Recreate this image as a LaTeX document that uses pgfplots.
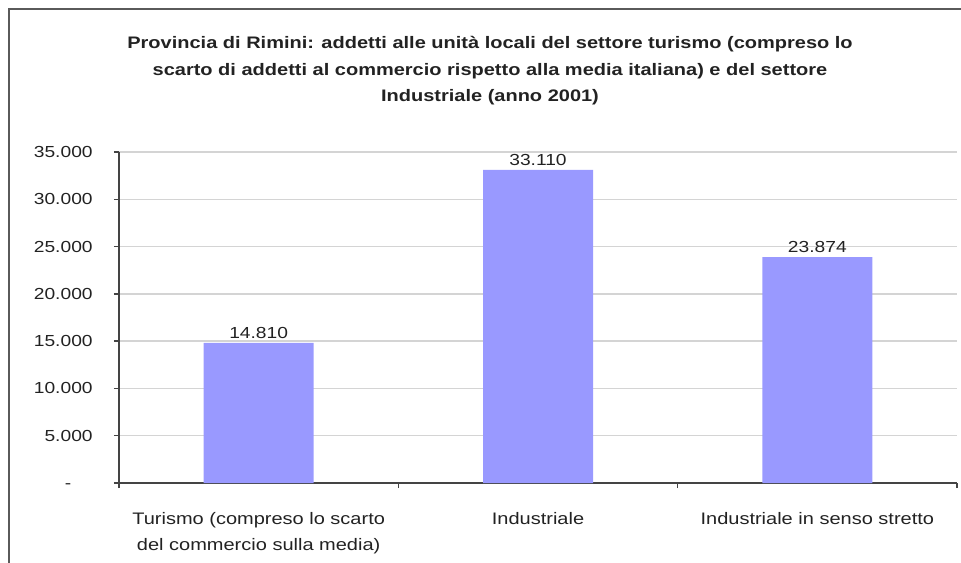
\documentclass[border=0pt]{standalone}
\usepackage{pgfplots}
\pgfplotsset{compat=1.18}
\usepackage{fontspec}
\setmainfont{Liberation Sans}[FakeStretch=1.2]
\definecolor{barcol}{HTML}{9999FF}
\definecolor{gridcol}{HTML}{D4D4D4}
\definecolor{axcol}{HTML}{444444}
\definecolor{framecol}{HTML}{5A5A5A}
\definecolor{txtcol}{HTML}{222222}
\begin{document}
\begin{tikzpicture}[x=0.75pt,y=0.75pt]
\useasboundingbox (0,0) rectangle (961,562);
\draw[framecol, line width=1.5pt] (9,-10) -- (9,553) -- (975,553);
\node[align=center, font=\bfseries\fontsize{12.5}{20.2}\selectfont, text=txtcol, anchor=base] at (490,460)
 {Provincia di Rimini: addetti alle unità locali del settore turismo (compreso lo\\
  scarto di addetti al commercio rispetto alla media italiana) e del settore\\
  Industriale (anno 2001)};
\begin{axis}[
  scale only axis, width=628.5pt, height=248.25pt,
  at={(89.25pt,59.25pt)}, anchor=south west,
  xmin=-0.5, xmax=2.5, ymin=0, ymax=35000,
  scaled y ticks=false,
  axis x line*=bottom, axis y line*=left,
  axis line style={axcol, line width=1.1pt},
  ymajorgrids, grid style={gridcol, line width=1pt},
  xtick={-0.5,0.5,1.5,2.5}, x tick label as interval,
  xticklabels={{Turismo (compreso lo scarto\\del commercio sulla media)},{Industriale},{Industriale in senso stretto},{}},
  xticklabel style={align=center, font=\fontsize{12.5}{19.5}\selectfont, text=txtcol, anchor=north, yshift=-15pt},
  ytick={0,5000,10000,15000,20000,25000,30000,35000},
  yticklabels={{-\phantom{00}},5.000,10.000,15.000,20.000,25.000,30.000,35.000},
  yticklabel style={font=\fontsize{12}{14}\selectfont, text=txtcol, xshift=-12.5pt},
  tick align=outside, major tick length=3.75pt,
  tick style={axcol, line width=1pt},
  ybar, bar width=82.5pt,
  point meta=explicit symbolic,
  nodes near coords,
  nodes near coords style={font=\fontsize{12}{14}\selectfont, text=txtcol},
]
\addplot[fill=barcol, draw=none] coordinates {(0,14810) [14.810] (1,33110) [33.110] (2,23874) [23.874]};
\end{axis}
\end{tikzpicture}
\end{document}
